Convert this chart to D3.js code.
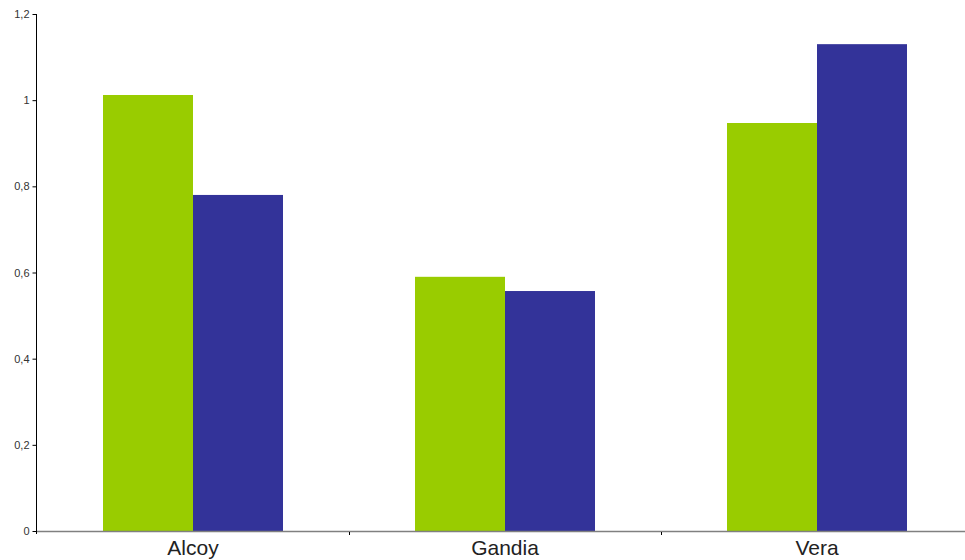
<!DOCTYPE html>
<html><head><meta charset="utf-8">
<script src="https://cdn.jsdelivr.net/npm/d3@7"></script>
<style>body{margin:0;background:#fff}svg{display:block}</style>
</head><body>
<svg id="c" width="965" height="560"></svg>
<script>
const categories = ["Alcoy", "Gandia", "Vera"];
const seriesNames = ["A", "B"];
const seriesA = [1.012, 0.590, 0.947];
const seriesB = [0.780, 0.557, 1.130];
const colors = ["#99cc00", "#333399"];
const yTicks = [0, 0.2, 0.4, 0.6, 0.8, 1, 1.2];

(function () {
const svg = d3.select("#c");
const mLeft = 37, mRight = 973, mTop = 14, mBottom = 531;

const x0 = d3.scaleBand().domain(categories).range([mLeft, mRight]).padding(0);
const x1 = d3.scaleBand().domain(seriesNames).range([0, x0.bandwidth()]).paddingInner(0).paddingOuter(0.7333);
const y = d3.scaleLinear().domain([0, 1.2]).range([mBottom, mTop]);

const data = categories.map((c, i) => ({cat: c, vals: [seriesA[i], seriesB[i]]}));

const g = svg.append("g").selectAll("g").data(data).join("g")
  .attr("transform", d => `translate(${x0(d.cat)},0)`);
g.selectAll("rect").data(d => d.vals.map((v, j) => ({s: seriesNames[j], v, j})))
  .join("rect")
  .attr("x", d => x1(d.s))
  .attr("width", x1.bandwidth())
  .attr("y", d => y(d.v))
  .attr("height", d => y(0) - y(d.v))
  .attr("fill", d => colors[d.j]);

// y axis
const fmt = v => String(v).replace(".", ",");
const yAxis = d3.axisLeft(y).tickValues(yTicks).tickFormat(fmt).tickSize(4).tickSizeOuter(0).tickPadding(3);
const ya = svg.append("g").attr("transform", `translate(${mLeft - 0.5},0)`).call(yAxis);
ya.select(".domain").attr("stroke", "#000").attr("d", `M0,${mTop}V${mBottom + 3}`);
ya.selectAll(".tick line").attr("stroke", "#000");
ya.selectAll(".tick text").attr("font-family", "Liberation Sans, Arial, sans-serif").attr("font-size", 11).attr("fill", "#333");

// x axis
const xAxis = d3.axisBottom(x0).tickSize(0).tickPadding(9);
const xa = svg.append("g").attr("transform", `translate(0,${mBottom + 0.5})`).call(xAxis);
xa.select(".domain").attr("stroke", "#808080").attr("stroke-width", 1.5).attr("d", `M${mLeft},0H965`);
xa.selectAll(".tick text").attr("font-family", "Liberation Sans, Arial, sans-serif").attr("font-size", 21).attr("fill", "#222");
// boundary tick marks
svg.append("g").selectAll("line").data(categories.slice(1)).join("line")
  .attr("x1", d => x0(d) + 0.5).attr("x2", d => x0(d) + 0.5)
  .attr("y1", mBottom + 1).attr("y2", mBottom + 4)
  .attr("stroke", "#000");
})();
</script>
</body></html>
